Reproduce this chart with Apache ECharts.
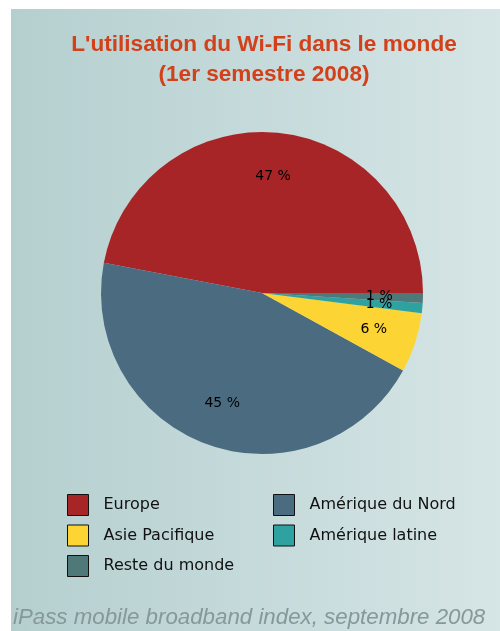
<!DOCTYPE html>
<html>
<head>
<meta charset="utf-8">
<script src="https://cdn.jsdelivr.net/npm/echarts@6/dist/echarts.min.js"></script>
<style>
  html, body { margin: 0; padding: 0; background: #fff; }
  #main { width: 500px; height: 631px; }
</style>
</head>
<body>
<div id="main"></div>
<script>
// parts du trafic Wi-Fi, 1er semestre 2008
const regions = ['Europe', 'Amérique du Nord', 'Asie Pacifique', 'Amérique latine', 'Reste du monde']
const shares = [47, 45, 6, 1, 1]
const colors = ['#a72527', '#4b6b80', '#fcd433', '#2ea1a1', '#4f7878']
const legendLeft = ['Europe', 'Asie Pacifique', 'Reste du monde']
const legendRight = ['Amérique du Nord', 'Amérique latine']

const chart = echarts.init(document.getElementById('main'))

const pieData = regions.map((name, i) => ({
    name: name,
    value: shares[i],
    itemStyle: { color: colors[i] }
}))

const legendBase = {
    orient: 'vertical',
    icon: 'rect',
    padding: 0,
    itemWidth: 21,
    itemHeight: 21,
    itemGap: 8.5,
    selectedMode: false,
    itemStyle: { borderColor: '#111', borderWidth: 1 },
    textStyle: {
        fontFamily: 'DejaVu Sans',
        fontSize: 16,
        color: '#111',
        padding: [0, 0, 0, 10]
    }
}

const option = {
    animation: false,
    backgroundColor: '#fff',
    graphic: [{
        type: 'rect',
        z: -10,
        shape: { x: 11, y: 9, width: 489, height: 622 },
        style: {
            fill: new echarts.graphic.LinearGradient(0, 0, 1, 0, [
                { offset: 0, color: '#b5cfcf' },
                { offset: 1, color: '#d6e5e6' }
            ])
        }
    }],
    title: [{
        text: "L'utilisation du Wi-Fi dans le monde\n(1er semestre 2008)",
        left: 259,
        top: 25,
        textAlign: 'center',
        textStyle: {
            fontFamily: 'Liberation Sans',
            fontWeight: 'bold',
            fontSize: 22.6,
            lineHeight: 30,
            color: '#d2411a'
        }
    }, {
        text: 'iPass mobile broadband index, septembre 2008',
        left: 8,
        top: 602,
        textStyle: {
            fontFamily: 'Liberation Sans',
            fontStyle: 'italic',
            fontWeight: 'normal',
            fontSize: 22.3,
            color: '#869899'
        }
    }],
    legend: [
        Object.assign({}, legendBase, { data: legendLeft, left: 67, top: 494 }),
        Object.assign({}, legendBase, { data: legendRight, left: 273, top: 494 })
    ],
    series: [{
        type: 'pie',
        center: [262, 293],
        radius: 161,
        startAngle: 0,
        clockwise: false,
        label: { show: false },
        labelLine: { show: false },
        emphasis: { disabled: true },
        data: pieData
    }, {
        // transparent copy used only to place the labels at ~0.7 r
        type: 'pie',
        center: [262, 293],
        radius: 229,
        startAngle: 0,
        clockwise: false,
        silent: true,
        legendHoverLink: false,
        itemStyle: { color: 'rgba(0,0,0,0)' },
        emphasis: { disabled: true },
        labelLine: { show: false },
        label: {
            show: true,
            position: 'inside',
            formatter: p => p.value + ' %',
            fontFamily: 'DejaVu Sans',
            fontSize: 14,
            color: '#000'
        },
        labelLayout: { hideOverlap: false },
        data: regions.map((name, i) => ({ name: name + ' ', value: shares[i] }))
    }]
}

chart.setOption(option)
</script>
</body>
</html>
